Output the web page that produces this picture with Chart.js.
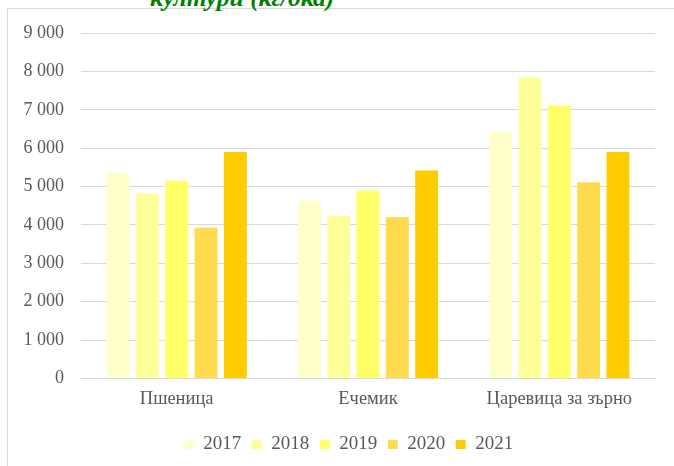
<!DOCTYPE html>
<html>
<head>
<meta charset="utf-8">
<script src="https://cdn.jsdelivr.net/npm/chart.js@4/dist/chart.umd.min.js"></script>
<style>
  html, body { margin: 0; padding: 0; background: #fff; }
  #wrap { position: relative; width: 674px; height: 466px; overflow: hidden; }
  #frame { position: absolute; left: 7px; top: 8px; width: 700px; height: 500px; border: 1px solid #d9d9d9; box-sizing: border-box; }
  #title { position: absolute; left: 150px; top: -15px; font-family: 'Liberation Serif', 'Times New Roman', serif; font-weight: bold; font-style: italic; font-size: 25.5px; color: #008000; white-space: nowrap; line-height: 25px; }
  canvas { position: absolute; left: 0; top: 0; }
</style>
</head>
<body>
<div id="wrap">
  <div id="frame"></div>
  <div id="title">култури (кг/дка)</div>
  <canvas id="c" width="674" height="466"></canvas>
</div>
<script>
const categories = ['Пшеница', 'Ечемик', 'Царевица за зърно'];
const years = ['2017', '2018', '2019', '2020', '2021'];
const v2017 = [5360, 4630, 6430];
const v2018 = [4820, 4230, 7840];
const v2019 = [5150, 4900, 7110];
const v2020 = [3930, 4200, 5110];
const v2021 = [5900, 5420, 5900];
const yTickLabels = ['0', '1 000', '2 000', '3 000', '4 000', '5 000', '6 000', '7 000', '8 000', '9 000'];
const colors = ['#FFFFCC', '#FFFF99', '#FFFF66', '#FFDB4D', '#FFCC00'];
const seriesValues = [v2017, v2018, v2019, v2020, v2021];

const serif = "'Liberation Serif', 'Times New Roman', serif";

const shiftLegend = {
  id: 'shiftLegend',
  afterLayout(chart) {
    if (chart.legend) {
      chart.legend.left += 21;
      chart.legend.right += 21;
    }
  }
};

new Chart(document.getElementById('c'), {
  type: 'bar',
  data: {
    labels: categories,
    datasets: years.map((y, i) => ({
      label: y,
      data: seriesValues[i],
      backgroundColor: colors[i],
      borderWidth: 0,
      categoryPercentage: 0.766,
      barPercentage: 0.78
    }))
  },
  plugins: [shiftLegend],
  options: {
    responsive: false,
    animation: false,
    devicePixelRatio: 1,
    layout: { padding: { top: 33, right: 19, left: 0, bottom: 2 } },
    plugins: {
      tooltip: { enabled: false },
      legend: {
        position: 'bottom',
        labels: {
          font: { family: serif, size: 19 },
          color: '#595959',
          boxWidth: 10,
          boxHeight: 9,
          padding: 10.5
        }
      }
    },
    scales: {
      x: {
        grid: { display: false, drawTicks: false },
        border: { display: true, color: '#d9d9d9', width: 1 },
        ticks: { font: { family: serif, size: 18.5 }, color: '#595959', padding: 10 },
        afterFit: (s) => { s.height = 46; }
      },
      y: {
        min: 0,
        max: 9000,
        grid: { color: '#d9d9d9', lineWidth: 1, drawTicks: false },
        border: { display: false },
        ticks: {
          stepSize: 1000,
          font: { family: serif, size: 18 },
          color: '#595959',
          padding: 17,
          callback: (v, i) => yTickLabels[i]
        },
        afterFit: (s) => { s.width = 81; }
      }
    }
  }
});
</script>
</body>
</html>
